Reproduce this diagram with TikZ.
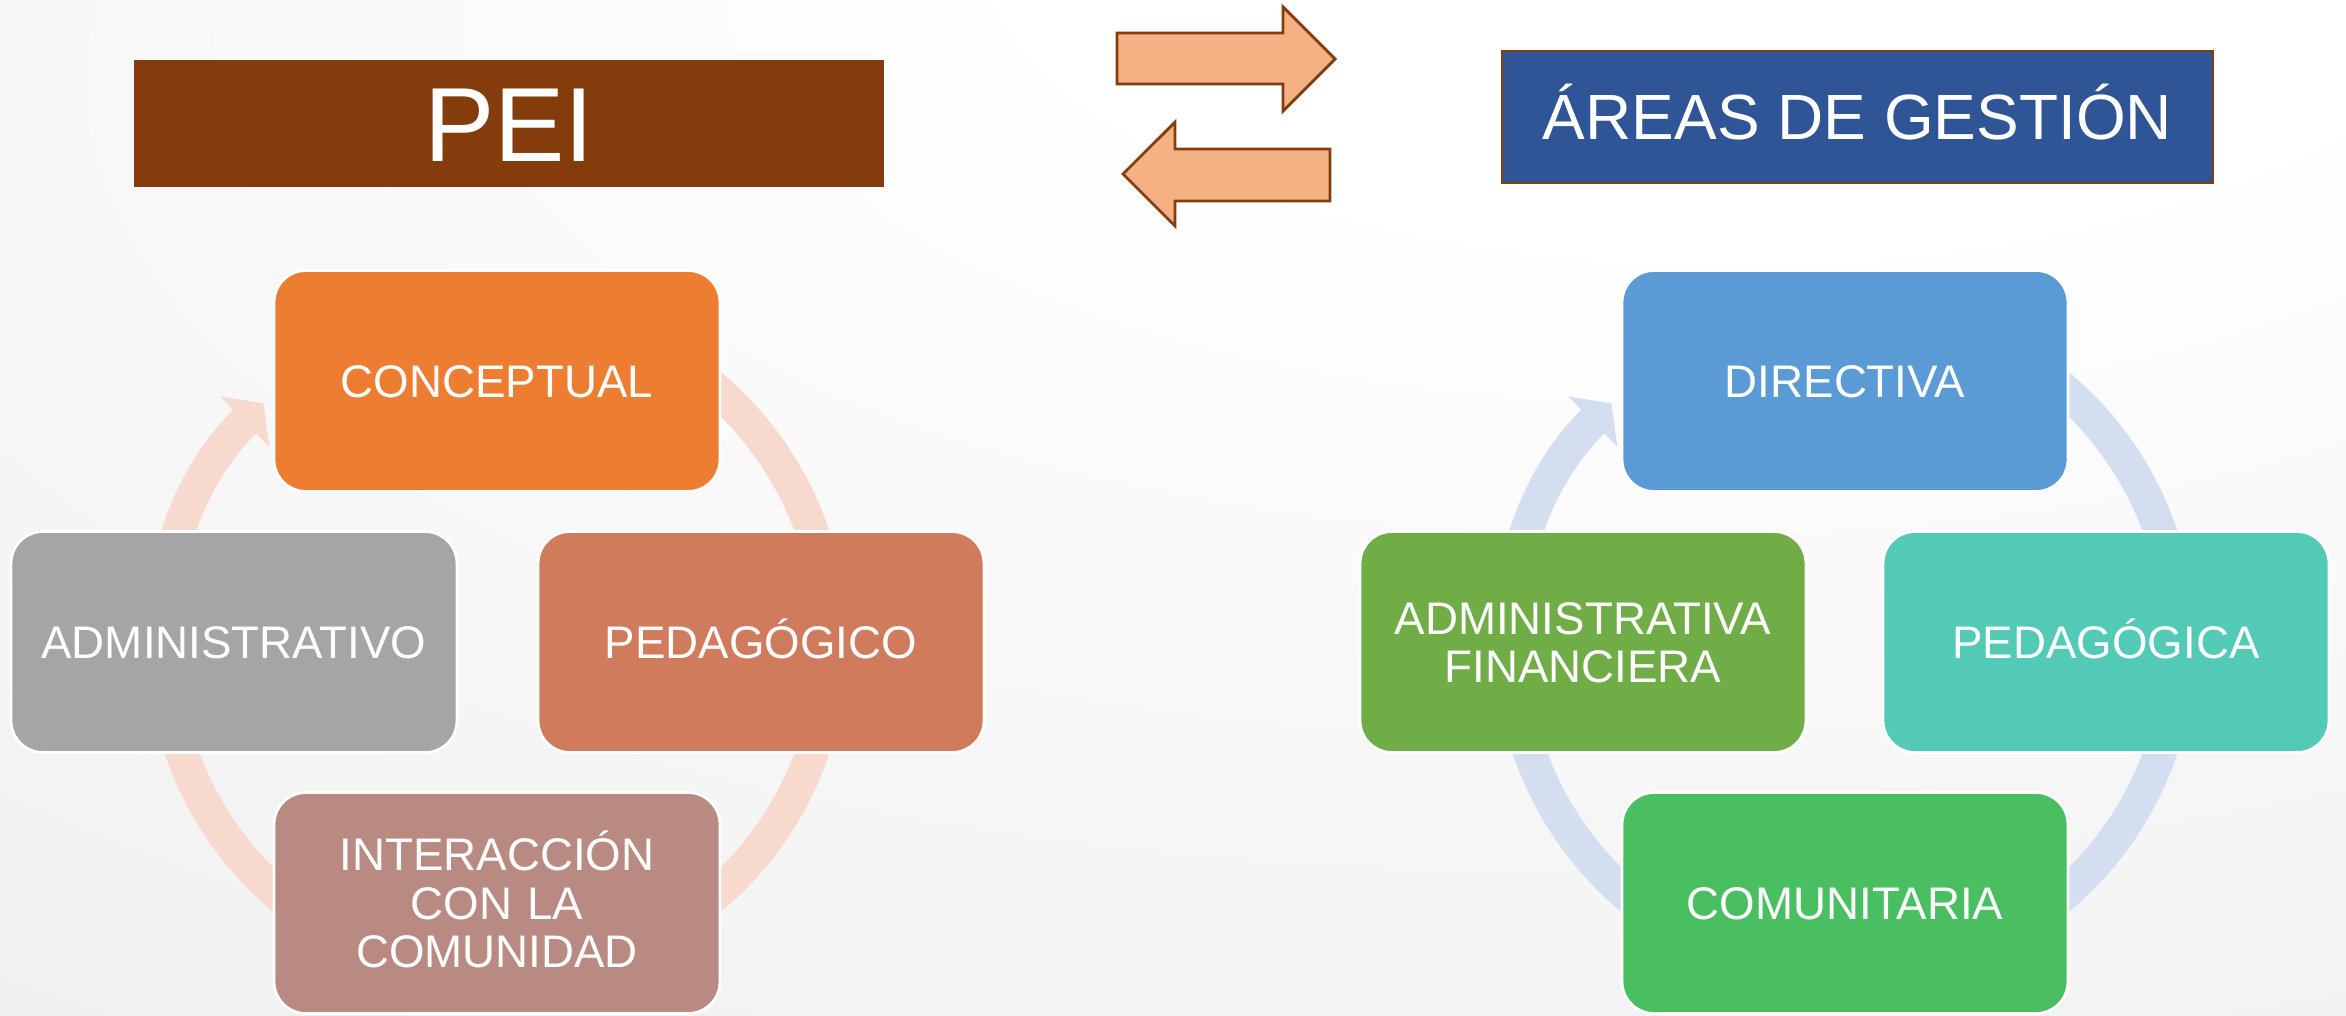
\documentclass[tikz,border=0pt]{standalone}
\usepackage{fontspec}
\setmainfont{Liberation Sans}
\usetikzlibrary{arrows.meta}
\definecolor{cafe}{HTML}{843C0C}
\definecolor{azulosc}{HTML}{2F5597}
\definecolor{salmon}{HTML}{F4B183}
\definecolor{naranja}{HTML}{ED7D31}
\definecolor{terracota}{HTML}{D17B5D}
\definecolor{gris}{HTML}{A5A5A5}
\definecolor{rosado}{HTML}{B98A82}
\definecolor{arcorosa}{HTML}{F8D9CE}
\definecolor{azul}{HTML}{5B9BD5}
\definecolor{verde}{HTML}{70AD47}
\definecolor{turquesa}{HTML}{52CAB5}
\definecolor{verdeclaro}{HTML}{4ABF62}
\definecolor{arcoazul}{HTML}{D3DEF0}
\pgfdeclareradialshading{fondo}{\pgfpoint{15bp}{35bp}}{color(0bp)=(white); color(15bp)=(white); color(50bp)=(black!6); color(80bp)=(black!12)}

\begin{document}
\begin{tikzpicture}[caja/.style={draw=white, line width=0.8pt, rectangle, rounded corners=0.32cm, minimum width=4.46cm, minimum height=2.21cm, inner sep=0pt, text=white, text width=4.3cm, align=center, font=\fontsize{13}{13.8}\selectfont, text height=9.31pt, text depth=0pt},
        titulo/.style={draw=cafe, line width=0.8pt, rectangle, inner sep=0pt, text=white},
        flecha/.style={draw=cafe, line width=0.8pt, fill=salmon},
        ciclo/.style={line width=0.33cm, -{Triangle[length=0.26cm, width=0.69cm]}}]

        \shade[shading=fondo] (0, 0) rectangle (23.46, 10.15);
        \useasboundingbox (0, 0) rectangle (23.46, 10.15);

        \node[titulo, fill=cafe, minimum width=7.48cm, minimum height=1.25cm, font=\fontsize{30}{36}\selectfont, text height=21.5pt, text depth=0pt] (PEI) at (5.09, 8.915) {PEI};

        \node[titulo, fill=azulosc, minimum width=7.11cm, minimum height=1.32cm, font=\fontsize{18.2}{22}\selectfont, text height=13pt, text depth=0pt] (AG) at (18.575, 8.98) {ÁREAS DE GESTIÓN};

        \draw[flecha] (11.17, 9.82) -- (12.83, 9.82) -- (12.83, 10.08) -- (13.35, 9.56) -- (12.83, 9.04) -- (12.83, 9.31) -- (11.17, 9.31) -- cycle;
        \draw[flecha] (13.30, 8.66) -- (11.75, 8.66) -- (11.75, 8.93) -- (11.23, 8.41) -- (11.75, 7.89) -- (11.75, 8.14) -- (13.30, 8.14) -- cycle;

        \coordinate (CP) at (4.97, 3.73);
        \coordinate (CG) at (18.45, 3.73);

        \draw[ciclo, arcorosa] (CP) ++(120:3.34) arc[start angle=120, end angle=-225.6, radius=3.34cm];
        \draw[ciclo, arcoazul] (CG) ++(120:3.34) arc[start angle=120, end angle=-225.6, radius=3.34cm];

        \node[caja, fill=naranja] (CON) at (4.97, 6.34) {CONCEPTUAL};

        \node[caja, fill=terracota] (PED) at (7.61, 3.73) {PEDAGÓGICO};

        \node[caja, fill=rosado, text depth=27.6pt] (INT) at (4.97, 1.12) {INTERACCIÓN\\CON LA\\COMUNIDAD};

        \node[caja, fill=gris] (ADM) at (2.34, 3.73) {ADMINISTRATIVO};

        \node[caja, fill=azul] (DIR) at (18.45, 6.34) {DIRECTIVA};

        \node[caja, fill=turquesa] (PGA) at (21.06, 3.73) {PEDAGÓGICA};

        \node[caja, fill=verdeclaro] (COM) at (18.45, 1.12) {COMUNITARIA};

        \node[caja, fill=verde, text depth=13.8pt] (AFI) at (15.83, 3.73) {ADMINISTRATIVA\\FINANCIERA};

    \end{tikzpicture}
\end{document}
